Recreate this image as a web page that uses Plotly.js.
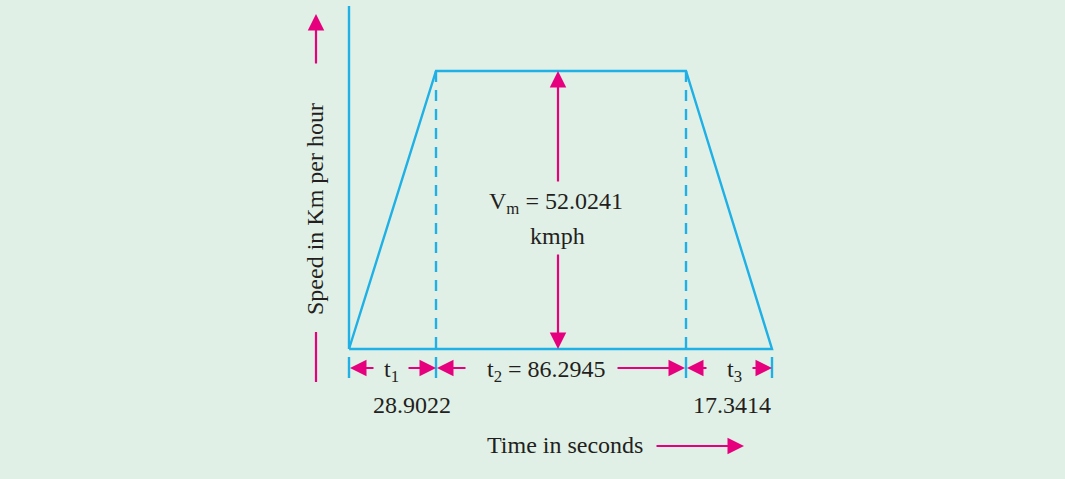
<!DOCTYPE html>
<html>
<head>
<meta charset="utf-8">
<script src="https://cdn.plot.ly/plotly-3.0.1.min.js"></script>
<style>html,body{margin:0;padding:0;background:#e1f0e6;}#chart{width:1065px;height:479px;}</style>
</head>
<body>
<div id="chart"></div>
<script>
// ---- data ----
const segmentLabels = ["t<sub>1</sub>", "t<sub>2</sub> = 86.2945", "t<sub>3</sub>"];
const segmentTimes = [28.9022, 86.2945, 17.3414];
const segmentTimeLabels = ["28.9022", "", "17.3414"];
const maxSpeed = 52.0241;           // kmph
const maxSpeedLabel = "V<sub>m</sub> = 52.0241";
const maxSpeedUnit = "kmph";
// schematic (not to scale) breakpoints along the time axis, as drawn
const schematicX = [0, 87, 337, 423];
const speedProfile = [0, maxSpeed, maxSpeed, 0];
const axisTitleY = "Speed in Km per hour";
const axisTitleX = "Time in seconds";

// ---- styling ----
const CYAN = "#1fb0e6", PINK = "#e6007e", TXT = "#231f20", BG = "#e1f0e6";
const FONT = "Liberation Serif, Times New Roman, serif";
const LW = 2.4;
const k = 278 / maxSpeed;             // px per kmph
const X = px => px - 349;              // page px -> x data
const Y = py => (349 - py) / k;        // page px -> y data

const traces = [
  {x: [0, 0], y: [Y(6), 0], mode: "lines", line: {color: CYAN, width: LW}, hoverinfo: "skip"},
  {x: schematicX.concat([schematicX[0]]), y: speedProfile.concat([0]), mode: "lines",
   line: {color: CYAN, width: LW}, hoverinfo: "skip"},
  {x: [schematicX[1], schematicX[1], null, schematicX[2], schematicX[2]],
   y: [maxSpeed, 0, null, maxSpeed, 0], mode: "lines",
   line: {color: CYAN, width: LW, dash: "11px,8px"}, hoverinfo: "skip"}
];
// dimension ticks
const tx = [], ty = [];
schematicX.forEach(v => { tx.push(v, v, null); ty.push(Y(357), Y(378), null); });
traces.push({x: tx, y: ty, mode: "lines", line: {color: CYAN, width: LW}, hoverinfo: "skip"});

function arrow(x, y, ax, ay) {
  return {x: x, y: y, ax: ax, ay: ay, xref: "x", yref: "y", axref: "x", ayref: "y",
    text: "", showarrow: true, arrowhead: 2, arrowsize: 1.5, arrowwidth: 2.2,
    arrowcolor: PINK, standoff: 0, startstandoff: 0};
}
function label(x, y, text, size, extra) {
  return Object.assign({x: x, y: y, xref: "x", yref: "y", text: text, showarrow: false,
    font: {family: FONT, size: size, color: TXT}}, extra || {});
}

const dimY = Y(368);
const ann = [];
// y-axis arrow
ann.push(arrow(X(316), Y(14), X(316), Y(65)));
ann.push(label(X(315), Y(209), axisTitleY, 24, {textangle: -90}));
// Vm arrows
ann.push(arrow(X(558), maxSpeed, X(558), Y(183)));
ann.push(arrow(X(558), 0, X(558), Y(253)));
ann.push(label(X(556), Y(203), maxSpeedLabel, 24));
ann.push(label(X(557), Y(236), maxSpeedUnit, 24));
// dimension arrows
const s = schematicX;
ann.push(arrow(s[0] + 1, dimY, s[0] + 26, dimY));
ann.push(arrow(s[1], dimY, s[1] - 29, dimY));
ann.push(arrow(s[1] + 1, dimY, s[1] + 31, dimY));
ann.push(arrow(s[2] - 1, dimY, s[2] - 70, dimY));
ann.push(arrow(s[2] + 1, dimY, s[2] + 22, dimY));
ann.push(arrow(s[3], dimY, s[3] - 21, dimY));
ann.push(label(X(391), Y(371), segmentLabels[0], 24));
ann.push(label(X(546), Y(371), segmentLabels[1], 24));
ann.push(label(X(734), Y(371), segmentLabels[2], 24));
ann.push(label(X(412), Y(405), segmentTimeLabels[0], 24));
ann.push(label(X(732), Y(405), segmentTimeLabels[2], 24));
// x-axis title
ann.push(label(X(565), Y(445), axisTitleX, 24));
ann.push(arrow(X(744), Y(446), X(655), Y(446)));

const shapes = [
  {type: "line", xref: "x", yref: "y", x0: X(316), x1: X(316), y0: Y(332), y1: Y(382),
   line: {color: PINK, width: 2.2}}
];

const layout = {
  width: 1065, height: 479,
  margin: {l: 0, r: 0, t: 0, b: 0},
  paper_bgcolor: BG, plot_bgcolor: BG,
  showlegend: false,
  xaxis: {range: [X(0), X(1065)], visible: false, fixedrange: true},
  yaxis: {range: [Y(479), Y(0)], visible: false, fixedrange: true},
  annotations: ann, shapes: shapes
};
Plotly.newPlot("chart", traces, layout, {displayModeBar: false, staticPlot: true});
</script>
</body>
</html>
